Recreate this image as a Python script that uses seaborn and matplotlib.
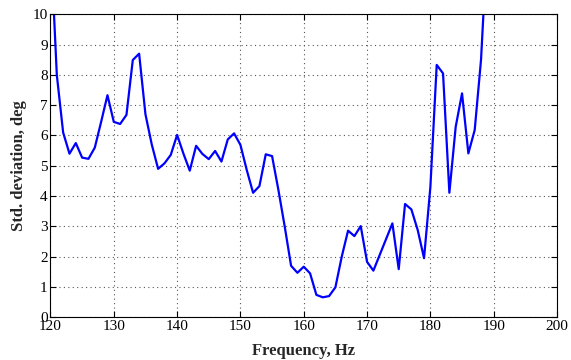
import numpy as np
import pandas as pd
import matplotlib
matplotlib.use("Agg")
import matplotlib.pyplot as plt
import seaborn as sns

# Data (1 Hz steps)
frequency = list(range(120, 190))
std_dev = [
    12.5, 8.0, 6.1, 5.4, 5.75, 5.27, 5.23, 5.6, 6.45, 7.33,
    6.45, 6.38, 6.68, 8.49, 8.7, 6.7, 5.7, 4.9, 5.08, 5.36,
    6.02, 5.4, 4.84, 5.66, 5.39, 5.22, 5.49, 5.14, 5.87, 6.07,
    5.69, 4.86, 4.11, 4.33, 5.38, 5.32, 4.2, 2.99, 1.7, 1.47,
    1.67, 1.45, 0.74, 0.66, 0.7, 0.99, 2.0, 2.86, 2.68, 3.01,
    1.83, 1.54, 2.06, 2.58, 3.1, 1.59, 3.74, 3.56, 2.88, 1.95,
    4.3, 8.33, 8.05, 4.11, 6.29, 7.39, 5.41, 6.18, 8.5, 12.5,
]
x_ticks = list(range(120, 201, 10))
y_ticks = list(range(0, 11))

df = pd.DataFrame({"Frequency": frequency, "Std": std_dev})

sns.set_style("ticks")
plt.rcParams["font.family"] = ["Liberation Serif", "DejaVu Serif"]

fig = plt.figure(figsize=(5.71, 3.6), dpi=100)
ax = fig.add_axes([0.0884, 0.1186, 0.8871, 0.8417])

sns.lineplot(data=df, x="Frequency", y="Std", color="#0000ff", linewidth=1.6, ax=ax)

ax.set_xlim(120, 200)
ax.set_ylim(0, 10)
ax.set_xticks(x_ticks)
ax.set_yticks(y_ticks)
ax.grid(True, linestyle=(0, (1, 3)), color="#555555", linewidth=0.8)
ax.tick_params(direction="in", length=4, width=0.8, top=True, right=True,
               labelsize=11, colors="black", pad=2)
for s in ax.spines.values():
    s.set_visible(True)
    s.set_color("black")
    s.set_linewidth(0.8)

ax.set_xlabel("Frequency, Hz", fontsize=12, fontweight="bold", labelpad=7)
ax.set_ylabel("Std. deviation, deg", fontsize=12, fontweight="bold", labelpad=4)

plt.savefig("out.png", dpi=100)
